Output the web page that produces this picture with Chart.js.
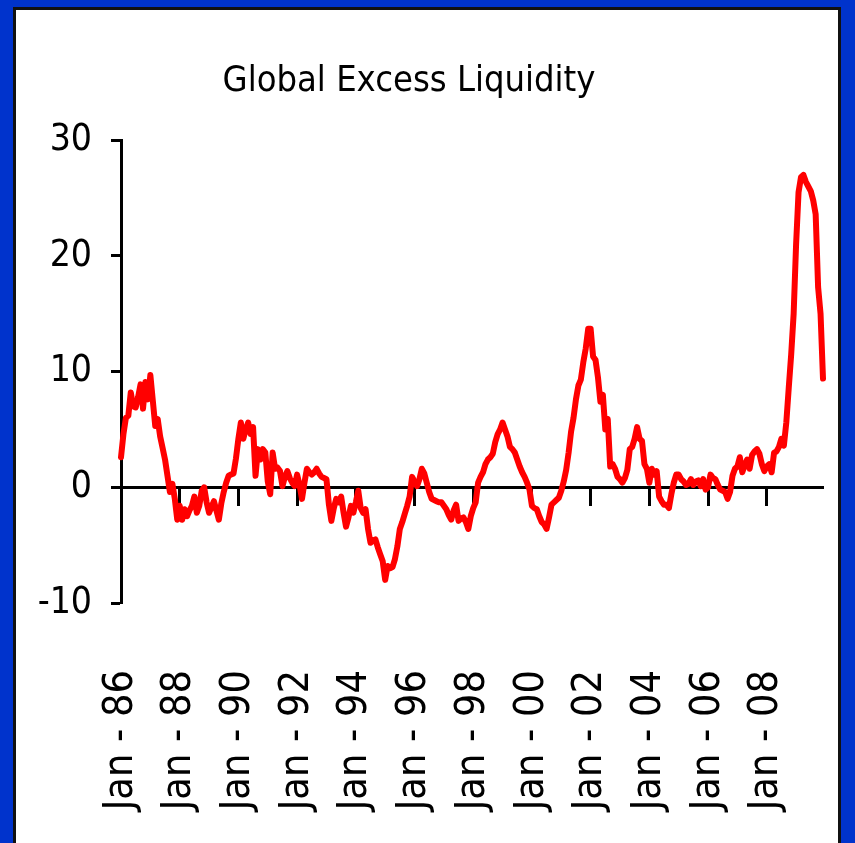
<!DOCTYPE html>
<html>
<head>
<meta charset="utf-8">
<script src="https://cdn.jsdelivr.net/npm/chart.js@4.4.1/dist/chart.umd.min.js"></script>
<style>
  html, body { margin: 0; padding: 0; }
  body { width: 855px; height: 843px; background: #0033cc; position: relative; overflow: hidden; }
  #panel { position: absolute; left: 13px; top: 7px; width: 822px; height: 850px; background: #fff; border: 3px solid #111; }
  #chart { position: absolute; left: -20px; top: 0; }
</style>
</head>
<body>
<div id="panel"></div>
<canvas id="chart" width="875" height="843"></canvas>
<script>
// two digit years and months, monthly series Jan-86 .. Dec-09
const years = ['86', '87', '88', '89', '90', '91', '92', '93', '94', '95', '96', '97',
	'98', '99', '00', '01', '02', '03', '04', '05', '06', '07', '08', '09'];
const months = ['Jan', 'Feb', 'Mar', 'Apr', 'May', 'Jun', 'Jul', 'Aug', 'Sep', 'Oct', 'Nov', 'Dec'];

// global excess liquidity, % (one row per year)
const excessLiquidity = [
	2.6, 4.6, 6.0, 6.2, 8.2, 7.0, 6.9, 7.8, 8.9, 6.8, 9.1, 7.6,          // 86
	9.7, 7.5, 5.3, 5.9, 4.4, 3.4, 2.4, 1.0, -0.4, 0.3, -1.0, -2.8,       // 87
	-1.6, -2.8, -1.9, -2.5, -2.0, -1.6, -0.8, -2.2, -1.6, -0.3, 0.0, -1.3, // 88
	-2.2, -1.7, -1.2, -2.0, -2.8, -1.4, -0.4, 0.4, 1.0, 1.1, 1.2, 2.5,   // 89
	4.2, 5.6, 4.2, 5.0, 5.6, 4.6, 5.2, 1.0, 3.3, 2.4, 3.3, 3.0,          // 90
	0.5, -0.6, 3.0, 1.6, 1.7, 1.4, 0.1, 0.9, 1.4, 0.8, 0.4, 0.1,         // 91
	1.1, 0.2, -1.0, 0.4, 1.6, 1.3, 1.1, 1.3, 1.6, 1.2, 0.9, 0.8,         // 92
	0.7, -1.5, -2.9, -1.8, -1.0, -1.3, -0.8, -2.2, -3.4, -2.6, -1.6, -2.2, // 93
	-1.3, -0.3, -1.8, -2.2, -1.9, -3.6, -4.8, -4.6, -4.5, -5.2, -5.8, -6.4, // 94
	-8.0, -6.8, -7.0, -6.9, -6.2, -5.1, -3.6, -3.0, -2.3, -1.6, -0.8, 0.9, // 95
	0.5, 0.1, 0.7, 1.6, 1.2, 0.4, -0.4, -1.0, -1.1, -1.2, -1.3, -1.3,    // 96
	-1.6, -1.9, -2.4, -2.8, -2.0, -1.5, -2.9, -2.7, -2.6, -3.0, -3.6, -2.5, // 97
	-1.8, -1.3, 0.4, 0.9, 1.3, 2.0, 2.4, 2.6, 2.9, 3.9, 4.6, 5.0,        // 98
	5.6, 5.0, 4.4, 3.5, 3.3, 3.0, 2.4, 1.8, 1.3, 0.9, 0.4, -0.2,         // 99
	-1.6, -1.8, -1.9, -2.5, -3.0, -3.2, -3.6, -2.6, -1.5, -1.3, -1.1, -0.9, // 00
	-0.3, 0.5, 1.5, 3.0, 4.8, 6.0, 7.6, 8.8, 9.3, 10.8, 12.0, 13.7,      // 01
	13.7, 11.3, 11.0, 9.5, 7.4, 8.0, 5.0, 5.9, 1.8, 2.0, 1.6, 0.9,       // 02
	0.7, 0.4, 0.8, 1.5, 3.3, 3.5, 4.2, 5.2, 4.2, 4.0, 2.0, 1.6,          // 03
	0.4, 1.6, 1.1, 1.4, -0.8, -1.2, -1.5, -1.5, -1.8, -0.6, 0.4, 1.1,    // 04
	1.1, 0.7, 0.5, 0.2, 0.3, 0.7, 0.2, 0.5, 0.6, 0.1, 0.7, -0.2,         // 05
	0.0, 1.1, 0.8, 0.7, 0.2, -0.2, -0.3, -0.4, -1.0, -0.4, 1.0, 1.6,     // 06
	1.8, 2.6, 1.3, 1.9, 2.4, 1.6, 2.8, 3.1, 3.3, 2.9, 2.0, 1.4,          // 07
	1.8, 2.0, 1.3, 3.0, 3.1, 3.5, 4.2, 3.6, 5.6, 8.6, 11.5, 15.0,        // 08
	21.0, 25.5, 26.8, 27.0, 26.4, 26.0, 25.6, 24.8, 23.6, 17.3, 15.0, 9.4 // 09
];

const labels = years.flatMap(y => months.map(m => m + ' - ' + y));

const NARROW = "'Liberation Sans Narrow', 'DejaVu Sans Condensed', 'Arial Narrow', sans-serif";

// only every second January gets a tick
function keep_biennial(scale) {
	scale.ticks = scale.ticks.filter(t => t.value % 24 === 0);
}

new Chart(document.getElementById('chart'), {
	type: 'line',
	data: {
		labels: labels,
		datasets: [{
			data: excessLiquidity,
			xAxisID: 'x',
			yAxisID: 'y',
			borderColor: '#ff0000',
			borderWidth: 6,
			borderJoinStyle: 'round',
			borderCapStyle: 'round',
			pointRadius: 0,
			tension: 0,
			fill: false
		}]
	},
	options: {
		responsive: false,
		animation: false,
		layout: { padding: { left: 15, right: 32, top: 0, bottom: 0 } },
		plugins: {
			legend: { display: false },
			tooltip: { enabled: false },
			title: {
				display: true,
				text: 'Global Excess Liquidity',
				color: '#000',
				font: { family: NARROW, size: 36, weight: 'normal' },
				padding: { top: 60, bottom: 37 }
			}
		},
		scales: {
			// axis line through zero, with tick marks only
			x: {
				type: 'category',
				position: { y: 0 },
				grid: { drawOnChartArea: false, drawTicks: true, tickLength: 17, tickWidth: 3, tickColor: '#000' },
				border: { color: '#000', width: 3 },
				ticks: { display: false, autoSkip: false },
				afterBuildTicks: keep_biennial
			},
			// date labels along the bottom
			xLabels: {
				type: 'category',
				position: 'bottom',
				grid: { display: false, drawTicks: false },
				border: { display: false },
				ticks: {
					autoSkip: false,
					minRotation: 90,
					maxRotation: 90,
					padding: 67,
					color: '#000',
					font: { family: NARROW, size: 41 }
				},
				afterBuildTicks: keep_biennial,
				afterFit: function(scale) {
					scale.height = 240;
					// rotated labels should not squeeze the plot sideways
					scale.paddingLeft = 0;
					scale.paddingRight = 0;
				}
			},
			y: {
				min: -10,
				max: 30,
				ticks: { stepSize: 10, color: '#000', padding: 19, font: { family: NARROW, size: 37 } },
				grid: { drawOnChartArea: false, tickLength: 10, tickWidth: 3, tickColor: '#000' },
				border: { color: '#000', width: 3 },
				afterFit: function(scale) { scale.width = 126; }
			}
		}
	}
});
</script>
</body>
</html>
